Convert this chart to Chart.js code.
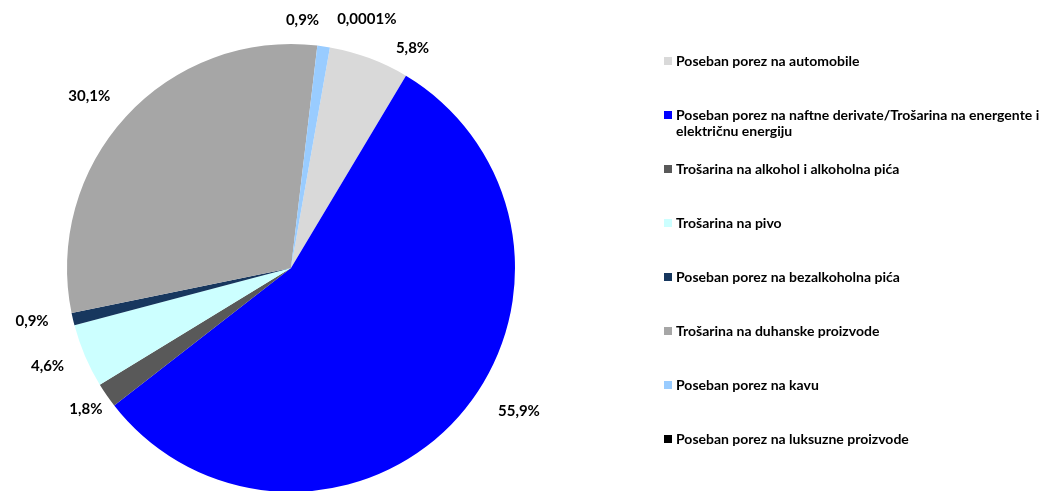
<!DOCTYPE html>
<html lang="hr">
<head>
<meta charset="UTF-8">
<title>Trošarine - struktura</title>
<script src="https://cdn.jsdelivr.net/npm/chart.js"></script>
<style>
  html, body { margin: 0; padding: 0; background: #fff; overflow: hidden; }
  .wrap { position: relative; width: 1050px; height: 491px; }
  #legend { position: absolute; left: 664px; top: 53px; margin: 0; padding: 0; list-style: none;
            font: bold 14px Lato, "Open Sans", sans-serif; color: #000; }
  #legend li { height: 54px; display: flex; align-items: flex-start; line-height: 16px; }
  #legend .box { width: 8px; height: 8px; margin: 4px 4px 0 0; flex: none; }
  #legend .txt { width: 374px; }
</style>
</head>
<body>
<div class="wrap">
  <canvas id="pie" width="1050" height="491"></canvas>
  <ul id="legend"></ul>
</div>

<script>
// ---- podaci ----
const categories = [
  'Poseban porez na automobile',
  'Poseban porez na naftne derivate/Trošarina na energente i električnu energiju',
  'Trošarina na alkohol i alkoholna pića',
  'Trošarina na pivo',
  'Poseban porez na bezalkoholna pića',
  'Trošarina na duhanske proizvode',
  'Poseban porez na kavu',
  'Poseban porez na luksuzne proizvode'
];
const shares = [5.8, 55.9, 1.8, 4.6, 0.9, 30.1, 0.9, 0.0001];
const shareLabels = ['5,8%', '55,9%', '1,8%', '4,6%', '0,9%', '30,1%', '0,9%', '0,0001%'];
const colors = ['#d9d9d9', '#0000ff', '#595959', '#ccffff', '#17375e', '#a6a6a6', '#99ccff', '#000000'];

// pomak natpisa (Excel "best fit" ih malo razmakne)
const labelNudge = [[34, 5], [37, -16], [1, 5], [-13, 4], [-15, -2], [-14, -9], [-25, -10], [30, -12]];

// ---- natpisi s postocima izvan kruga ----
const outsideLabels = {
  id: 'outsideLabels',
  afterDatasetsDraw(chart) {
    const ctx = chart.ctx;
    const meta = chart.getDatasetMeta(0);
    ctx.save();
    ctx.font = 'bold 15px Lato, "Open Sans", sans-serif';
    ctx.fillStyle = '#000';
    ctx.textAlign = 'center';
    ctx.textBaseline = 'middle';
    meta.data.forEach((arc, i) => {
      const mid = (arc.startAngle + arc.endAngle) / 2;
      const ux = Math.cos(mid), uy = Math.sin(mid);
      const w = ctx.measureText(shareLabels[i]).width;
      const r = arc.outerRadius + 10;
      const x = arc.x + ux * r + ux * w / 2 + labelNudge[i][0];
      const y = arc.y + uy * r + uy * 6 + labelNudge[i][1];
      ctx.fillText(shareLabels[i], x, y);
    });
    ctx.restore();
  }
};

const chart = new Chart(document.getElementById('pie'), {
  type: 'pie',
  data: {
    labels: categories,
    datasets: [{
      data: shares,
      backgroundColor: colors,
      borderWidth: 0,
      radius: 224
    }]
  },
  options: {
    responsive: false,
    animation: false,
    rotation: 10,
    layout: { padding: { left: 67, top: 45, right: 535, bottom: 0 } },
    plugins: {
      legend: { display: false },
      tooltip: { enabled: false }
    }
  },
  plugins: [outsideLabels]
});

// legenda (HTML, zbog prijeloma dugog naziva)
const legend = document.getElementById('legend');
categories.forEach((name, i) => {
  const li = document.createElement('li');
  li.innerHTML = '<span class="box" style="background:' + colors[i] + '"></span><span class="txt">' + name + '</span>';
  legend.appendChild(li);
});
</script>
</body>
</html>
